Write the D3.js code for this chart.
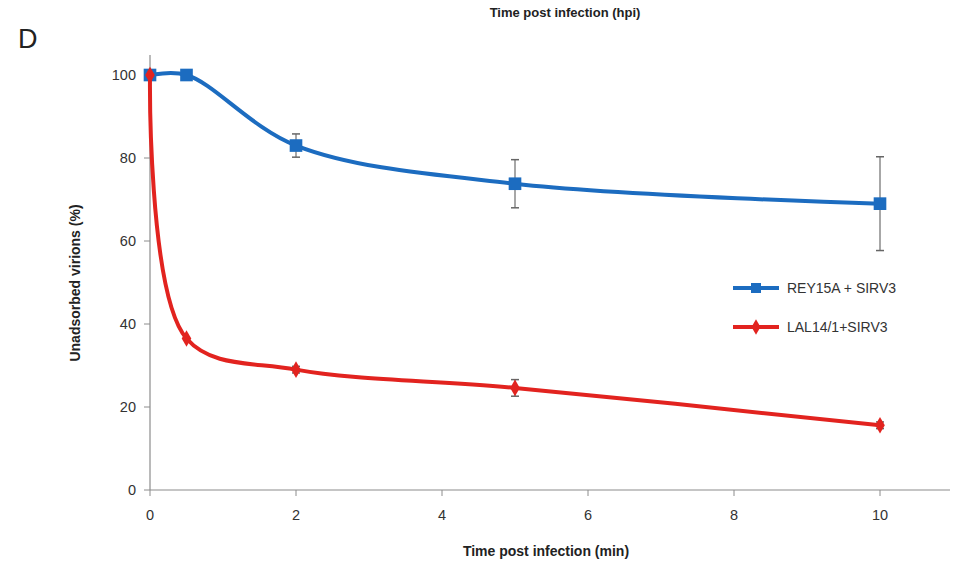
<!DOCTYPE html>
<html>
<head>
<meta charset="utf-8">
<script src="https://cdn.jsdelivr.net/npm/d3@7"></script>
<style>
  body { margin: 0; background: #fff; }
  text { font-family: "Liberation Sans", Arial, sans-serif; }
</style>
</head>
<body>
<div id="chart"></div>
<script>
// data
const times = [0, 0.5, 2, 5, 10];
const reyValues = [100, 100, 83, 73.8, 69];
const reyErrors = [0, 0, 2.8, 5.8, 11.3];
const lalValues = [100, 36.5, 29, 24.6, 15.6];
const lalErrors = [0, 0, 0.8, 2, 0.8];
const xTicks = [0, 2, 4, 6, 8, 10];
const yTicks = [0, 20, 40, 60, 80, 100];
const seriesNames = ["REY15A + SIRV3", "LAL14/1+SIRV3"];

const width = 954, height = 567;
const svg = d3.select("#chart").append("svg")
  .attr("width", width).attr("height", height);

const x = d3.scaleLinear().domain([0, 10]).range([150, 880]);
const y = d3.scaleLinear().domain([0, 100]).range([490, 75]);

const axisColor = "#8c8c8c";

// axes lines
svg.append("line").attr("x1", x(0)).attr("x2", x(0))
  .attr("y1", 55).attr("y2", y(0)).attr("stroke", axisColor).attr("stroke-width", 1.2);
svg.append("line").attr("x1", x(0)).attr("x2", 950)
  .attr("y1", y(0)).attr("y2", y(0)).attr("stroke", axisColor).attr("stroke-width", 1.2);

// y ticks
svg.selectAll(".yt").data(yTicks).enter().append("line")
  .attr("x1", x(0) - 6).attr("x2", x(0))
  .attr("y1", d => y(d)).attr("y2", d => y(d))
  .attr("stroke", axisColor);
svg.selectAll(".yl").data(yTicks).enter().append("text")
  .attr("x", x(0) - 14).attr("y", d => y(d) + 5)
  .attr("text-anchor", "end").attr("font-size", 14.5).attr("fill", "#333")
  .text(d => d);

// x ticks
svg.selectAll(".xt").data(xTicks).enter().append("line")
  .attr("x1", d => x(d)).attr("x2", d => x(d))
  .attr("y1", y(0)).attr("y2", y(0) + 6)
  .attr("stroke", axisColor);
svg.selectAll(".xl").data(xTicks).enter().append("text")
  .attr("x", d => x(d)).attr("y", y(0) + 30)
  .attr("text-anchor", "middle").attr("font-size", 14.5).attr("fill", "#333")
  .text(d => d);

// titles
svg.append("text").attr("x", 565).attr("y", 17)
  .attr("text-anchor", "middle").attr("font-size", 13).attr("font-weight", "bold")
  .attr("fill", "#222").text("Time post infection (hpi)");
svg.append("text").attr("x", 18).attr("y", 48)
  .attr("font-size", 27).attr("fill", "#222").text("D");
svg.append("text").attr("x", 546).attr("y", 556)
  .attr("text-anchor", "middle").attr("font-size", 14).attr("font-weight", "bold")
  .attr("fill", "#222").text("Time post infection (min)");
svg.append("text")
  .attr("transform", "translate(80," + 283 + ") rotate(-90)")
  .attr("text-anchor", "middle").attr("font-size", 14).attr("font-weight", "bold")
  .attr("fill", "#222").text("Unadsorbed virions (%)");

const series = [
  { name: seriesNames[0], values: reyValues, errors: reyErrors, color: "#1c6cc0", marker: "square" },
  { name: seriesNames[1], values: lalValues, errors: lalErrors, color: "#e2231f", marker: "diamond" }
];

const line = d3.line()
  .x(d => x(d[0])).y(d => y(d[1]))
  .curve(d3.curveCatmullRom.alpha(0.5));

series.forEach(s => {
  const pts = times.map((t, i) => [t, s.values[i], s.errors[i]]);
  // error bars
  const eb = svg.append("g").selectAll("g").data(pts.filter(p => p[2] > 0)).enter().append("g");
  eb.append("line").attr("x1", d => x(d[0])).attr("x2", d => x(d[0]))
    .attr("y1", d => y(d[1] + d[2])).attr("y2", d => y(d[1] - d[2]))
    .attr("stroke", "#8a8a8a").attr("stroke-width", 1.5);
  eb.selectAll(".cap").data(d => [d[1] + d[2], d[1] - d[2]].map(v => [d[0], v])).enter()
    .append("line")
    .attr("x1", d => x(d[0]) - 4).attr("x2", d => x(d[0]) + 4)
    .attr("y1", d => y(d[1])).attr("y2", d => y(d[1]))
    .attr("stroke", "#666").attr("stroke-width", 1.5);

  svg.append("path").datum(pts).attr("d", line)
    .attr("fill", "none").attr("stroke", s.color).attr("stroke-width", 4);

  const sym = s.marker === "square"
    ? d3.symbol().type(d3.symbolSquare).size(160)
    : d3.symbol().type(d3.symbolDiamond).size(80);
  svg.append("g").selectAll("path").data(pts).enter().append("path")
    .attr("d", sym)
    .attr("transform", d => "translate(" + x(d[0]) + "," + y(d[1]) + ")")
    .attr("fill", s.color);
});

// legend
const legend = svg.append("g").selectAll("g").data(series).enter().append("g")
  .attr("transform", (d, i) => "translate(733," + (288 + i * 39) + ")");
legend.append("line").attr("x1", 0).attr("x2", 46).attr("y1", 0).attr("y2", 0)
  .attr("stroke", d => d.color).attr("stroke-width", 4);
legend.append("path")
  .attr("d", d => d.marker === "square"
    ? d3.symbol().type(d3.symbolSquare).size(100)()
    : d3.symbol().type(d3.symbolDiamond).size(70)())
  .attr("transform", "translate(23,0)")
  .attr("fill", d => d.color);
legend.append("text").attr("x", 54).attr("y", 5)
  .attr("font-size", 14).attr("fill", "#333").text(d => d.name);
</script>
</body>
</html>
